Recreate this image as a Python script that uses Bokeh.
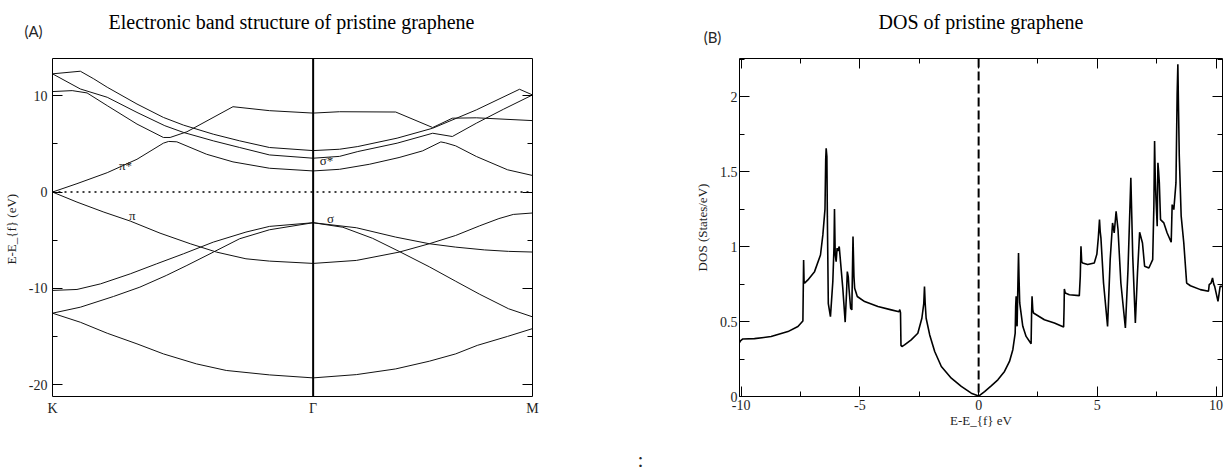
from bokeh.plotting import figure
from bokeh.layouts import row, column
from bokeh.models import Range1d, LinearAxis, FixedTicker, SingleIntervalTicker, Span, Label
from bokeh.core.properties import value
from bokeh.embed import file_html
from bokeh.resources import INLINE

SERIF = "Liberation Serif"
SANS = "Lato"

# ---------------- Panel A : band structure ----------------
K_POINT, GAMMA_POINT, M_POINT = 0.0, 0.543, 1.0
K_TICK_LABELS = {0: "K", 0.543: "Γ", 1: "M"}
ENERGY_RANGE = (-21.2, 13.85)
ENERGY_TICK_LABELS = {-20: "-20", -10: "-10", 0: "0", 10: "10"}

BAND1_K = [0, 0.058, 0.114, 0.176, 0.231, 0.3, 0.362, 0.452, 0.543, 0.633, 0.715, 0.785, 0.84, 0.885, 0.948, 1.0]
BAND1_E = [-12.56, -13.5, -14.64, -15.74, -16.78, -17.82, -18.5, -18.96, -19.27, -18.93, -18.34, -17.54, -16.78, -15.9, -14.97, -14.16]

BAND2_K = [0, 0.058, 0.127, 0.182, 0.237, 0.28, 0.335, 0.39, 0.452, 0.543, 0.605, 0.667, 0.722, 0.785, 0.84, 0.89, 0.95, 1.0]
BAND2_E = [-12.56, -11.94, -10.83, -9.86, -8.65, -7.61, -6.23, -4.84, -3.91, -3.18, -3.65, -4.8, -6.15, -7.75, -9.25, -10.6, -12.1, -12.94]

BAND3_K = [0, 0.051, 0.1, 0.162, 0.217, 0.273, 0.335, 0.403, 0.452, 0.543, 0.633, 0.715, 0.785, 0.84, 0.9, 0.95, 1.0]
BAND3_E = [-10.2, -10.1, -9.52, -8.48, -7.44, -6.4, -5.19, -4.15, -3.56, -3.18, -3.7, -4.67, -5.36, -5.71, -6.0, -6.15, -6.22]

PI_K = [0, 0.051, 0.107, 0.162, 0.224, 0.287, 0.342, 0.403, 0.452, 0.543, 0.633, 0.722, 0.785, 0.84, 0.89, 0.93, 0.96, 1.0]
PI_E = [0, -1.04, -2.08, -3.01, -4.26, -5.36, -6.23, -6.92, -7.16, -7.4, -7.09, -6.23, -5.36, -4.5, -3.5, -2.75, -2.32, -2.17]

BAND5_K = [0, 0.051, 0.114, 0.176, 0.231, 0.242, 0.259, 0.321, 0.376, 0.452, 0.543, 0.598, 0.66, 0.722, 0.771, 0.809, 0.819, 0.84, 0.883, 0.948, 1.0]
BAND5_E = [0, 0.87, 2.01, 3.4, 5.07, 5.25, 5.21, 3.92, 3.13, 2.47, 2.19, 2.36, 2.88, 3.58, 4.27, 5.2, 5.1, 4.79, 3.69, 2.31, 1.72]

BAND6_K = [0, 0.058, 0.114, 0.176, 0.234, 0.273, 0.335, 0.39, 0.452, 0.543, 0.598, 0.636, 0.718, 0.792, 0.833, 0.883, 0.94, 1.0]
BAND6_E = [12.26, 10.69, 9.83, 8.26, 6.88, 6.18, 5.31, 4.62, 3.85, 3.51, 3.7, 4.2, 5.07, 6.1, 5.76, 7.14, 8.6, 10.07]

BAND7_K = [0, 0.058, 0.086, 0.114, 0.176, 0.231, 0.273, 0.335, 0.39, 0.452, 0.543, 0.598, 0.636, 0.718, 0.792, 0.883, 0.973, 1.0]
BAND7_E = [12.26, 12.53, 11.74, 10.87, 9.13, 7.74, 6.94, 6.0, 5.31, 4.62, 4.3, 4.44, 4.72, 5.59, 6.62, 8.52, 10.66, 10.07]

BAND8_K = [0, 0.041, 0.072, 0.114, 0.176, 0.231, 0.245, 0.28, 0.376, 0.452, 0.543, 0.598, 0.715, 0.792, 0.833, 0.883, 1.0]
BAND8_E = [10.42, 10.52, 10.28, 8.96, 7.05, 5.66, 5.66, 6.25, 8.85, 8.44, 8.19, 8.33, 8.3, 6.69, 7.66, 7.7, 7.41]

SYMBOL_TEXT = ["π*", "π", "σ*", "σ"]
SYMBOL_K = [0.152, 0.166, 0.571, 0.579]
SYMBOL_E = [2.71, -2.42, 3.23, -2.77]

# ---------------- Panel B : DOS ----------------
DOS_X_RANGE = (-10.07, 10.27)
DOS_Y_RANGE = (0, 2.255)
DOS_Y_TICK_LABELS = {0: "0", 0.5: "0.5", 1: "1", 1.5: "1.5", 2: "2"}
DOS_X_TICK_LABELS = {-10: "-10", -5: "-5", 0: "0", 5: "5", 10: "10"}

DOS_E = [-10.07, -10.03, -9.93, -9.44, -8.74, -8.03, -7.61, -7.42, -7.40, -7.37, -7.35, -7.33, -7.19, -6.91,
         -6.66, -6.56, -6.47, -6.44, -6.42, -6.39, -6.37, -6.33, -6.24, -6.14, -6.09, -6.07, -6.04, -6.0,
         -5.96, -5.93, -5.87, -5.72, -5.62, -5.56, -5.53, -5.49, -5.46, -5.39, -5.34, -5.29, -5.25, -5.22,
         -5.11, -4.8, -4.24, -3.68, -3.35, -3.32, -3.29, -3.27, -3.23, -3.12, -2.84, -2.56, -2.39, -2.31,
         -2.28, -2.25, -2.21, -2.06, -1.85, -1.57, -1.15, -0.73, -0.31, 0.0,
         0.25, 0.53, 0.81, 1.09, 1.30, 1.44, 1.54, 1.56, 1.58, 1.60, 1.62, 1.66, 1.68, 1.70, 1.73, 1.86,
         2.00, 2.21, 2.23, 2.25, 2.28, 2.31, 2.77, 3.19, 3.58, 3.60, 3.61, 3.65, 3.82, 4.24, 4.28, 4.31,
         4.34, 4.38, 4.59, 4.87, 4.98, 5.04, 5.09, 5.12, 5.15, 5.26, 5.43, 5.54, 5.64, 5.71, 5.79, 5.87,
         5.99, 6.18, 6.29, 6.36, 6.41, 6.45, 6.49, 6.6, 6.69, 6.78, 6.9, 6.99, 7.17, 7.33, 7.38, 7.41,
         7.44, 7.47, 7.52, 7.55, 7.58, 7.61, 7.66, 7.8, 7.94, 8.11, 8.15, 8.22, 8.31, 8.36, 8.39, 8.42,
         8.45, 8.53, 8.64, 8.76, 8.92, 9.34, 9.68, 9.71, 9.79, 9.85, 9.9, 9.94, 10.08, 10.17, 10.27]
DOS_V = [0.36, 0.371, 0.384, 0.386, 0.40, 0.433, 0.467, 0.50, 0.505, 0.91, 0.76, 0.756, 0.778, 0.833,
         0.944, 1.078, 1.25, 1.58, 1.656, 1.60, 1.2, 0.62, 0.533, 0.767, 1.0, 1.251, 0.95, 0.90,
         0.99, 0.97, 1.0, 0.722, 0.496, 0.70, 0.833, 0.80, 0.722, 0.589, 0.578, 1.067, 0.80, 0.722,
         0.667, 0.633, 0.60, 0.578, 0.565, 0.58, 0.56, 0.34, 0.333, 0.344, 0.378, 0.422, 0.522, 0.62,
         0.733, 0.62, 0.522, 0.411, 0.30, 0.20, 0.122, 0.067, 0.022, 0.003,
         0.033, 0.071, 0.111, 0.167, 0.234, 0.312, 0.423, 0.60, 0.668, 0.50, 0.468, 0.80, 0.958, 0.80, 0.624, 0.468,
         0.401, 0.352, 0.55, 0.668, 0.58, 0.557, 0.512, 0.49, 0.463, 0.60, 0.717, 0.69, 0.679, 0.673, 0.80, 1.002,
         0.90, 0.891, 0.88, 0.891, 0.95, 1.058, 1.18, 1.10, 1.058, 0.757, 0.468, 0.913, 1.158, 1.091, 1.236, 1.114,
         0.757, 0.457, 0.846, 1.2, 1.459, 1.2, 0.935, 0.49, 0.824, 1.096, 1.024, 0.869, 0.857, 0.913, 1.27, 1.704,
         1.45, 1.314, 1.136, 1.559, 1.50, 1.425, 1.18, 1.158, 1.091, 1.029, 1.28, 1.247, 1.425, 2.016, 2.216, 1.9,
         1.604, 1.203, 1.024, 0.757, 0.739, 0.713, 0.702, 0.746, 0.757, 0.791, 0.75, 0.735, 0.635, 0.735, 0.735]

TITLE_A = "Electronic band structure of pristine graphene"
TITLE_B = "DOS of pristine graphene"

LEFT_W, RIGHT_W = 640, 591
HEAD_H, BODY_H, FOOT_H = 58, 382, 30


def style_axis(ax):
    ax.axis_line_color = None
    ax.major_label_text_font = SERIF
    ax.major_label_text_font_size = "14px"
    ax.major_label_text_color = "#1e1e1e"
    ax.axis_label_text_font = SERIF
    ax.axis_label_text_font_size = "13px"
    ax.axis_label_text_font_style = "normal"
    ax.axis_label_text_color = "#1e1e1e"
    ax.major_tick_line_color = "black"
    ax.minor_tick_line_color = "black"
    ax.major_tick_out = 0
    ax.minor_tick_out = 0


def mirror_axis(ticker, major_in, minor_in):
    ax = LinearAxis(ticker=ticker)
    ax.axis_line_color = None
    ax.major_label_text_font_size = "0px"
    ax.major_label_text_color = None
    ax.major_label_standoff = 0
    ax.major_tick_in = major_in
    ax.major_tick_out = 0
    ax.minor_tick_in = minor_in
    ax.minor_tick_out = 0
    return ax


def text_strip(width, height, x0):
    # a plain strip (no axes) whose data units are page pixels, used for headings
    s = figure(width=width, height=height, x_range=Range1d(x0, x0 + width), y_range=Range1d(height, 0),
               x_axis_type=None, y_axis_type=None, output_backend="svg", toolbar_location=None,
               min_border=0)
    s.outline_line_color = None
    s.background_fill_color = "white"
    s.border_fill_color = "white"
    return s


def plot_figure(width, border_left, border_right, x_range, y_range):
    p = figure(width=width, height=BODY_H, x_range=Range1d(*x_range), y_range=Range1d(*y_range),
               output_backend="svg", toolbar_location=None,
               min_border_left=border_left, min_border_right=border_right,
               min_border_top=0, min_border_bottom=44)
    p.grid.visible = False
    p.outline_line_color = "black"
    p.outline_line_width = 1
    p.background_fill_color = "white"
    p.border_fill_color = "white"
    return p


# ---------- headings ----------
h1 = text_strip(LEFT_W, HEAD_H, 0)
h1.add_layout(Label(x=291, y=21, text=TITLE_A, text_font=SERIF, text_font_size="20px",
                    text_color="black", text_align="center", text_baseline="middle"))
h1.add_layout(Label(x=33, y=30, text="(A)", text_font=SANS, text_font_size="15px",
                    text_color="#262626", text_align="center", text_baseline="middle"))

h2 = text_strip(RIGHT_W, HEAD_H, LEFT_W)
h2.add_layout(Label(x=980.5, y=21, text=TITLE_B, text_font=SERIF, text_font_size="20px",
                    text_color="black", text_align="center", text_baseline="middle"))
h2.add_layout(Label(x=712, y=36, text="(B)", text_font=SANS, text_font_size="15px",
                    text_color="#262626", text_align="center", text_baseline="middle"))

# ---------- Figure A ----------
p1 = plot_figure(LEFT_W, 50, 108, (0, 1), ENERGY_RANGE)

xa = p1.xaxis[0]
style_axis(xa)
xa.ticker = FixedTicker(ticks=[K_POINT, GAMMA_POINT, M_POINT])
xa.major_label_overrides = K_TICK_LABELS
xa.major_tick_in = 0
xa.minor_tick_in = 0
xa.major_label_standoff = 4

ya = p1.yaxis[0]
style_axis(ya)
ya.ticker = SingleIntervalTicker(interval=10, num_minor_ticks=2)
ya.major_label_overrides = ENERGY_TICK_LABELS
ya.major_tick_in = 10
ya.minor_tick_in = 5
ya.major_label_standoff = 5
ya.axis_label = "E-E_{f}  (eV)"
ya.axis_label_standoff = 7

p1.add_layout(mirror_axis(SingleIntervalTicker(interval=10, num_minor_ticks=2), 10, 5), "right")

p1.add_layout(Span(location=0, dimension="width", line_color="black", line_width=1.5, line_dash="2 4"))
p1.add_layout(Span(location=GAMMA_POINT, dimension="height", line_color="black", line_width=2))

for bk, be in [(BAND1_K, BAND1_E), (BAND2_K, BAND2_E), (BAND3_K, BAND3_E), (PI_K, PI_E),
               (BAND5_K, BAND5_E), (BAND6_K, BAND6_E), (BAND7_K, BAND7_E), (BAND8_K, BAND8_E)]:
    p1.line(bk, be, line_color="#111111", line_width=1)

p1.text(x=SYMBOL_K, y=SYMBOL_E, text=SYMBOL_TEXT, text_font=value(SERIF), text_font_size="13px",
        text_align="center", text_baseline="middle", text_color="#222222")

# ---------- Figure B ----------
p2 = plot_figure(RIGHT_W, 99, 9, DOS_X_RANGE, DOS_Y_RANGE)

xb = p2.xaxis[0]
style_axis(xb)
xb.ticker = SingleIntervalTicker(interval=5, num_minor_ticks=2)
xb.major_label_overrides = DOS_X_TICK_LABELS
xb.major_tick_in = 10
xb.minor_tick_in = 5
xb.major_label_standoff = 3
xb.axis_label = "E-E_{f} eV"
xb.axis_label_standoff = 0

yb = p2.yaxis[0]
style_axis(yb)
yb.ticker = SingleIntervalTicker(interval=0.5, num_minor_ticks=2)
yb.major_label_overrides = DOS_Y_TICK_LABELS
yb.major_tick_in = 10
yb.minor_tick_in = 5
yb.major_label_standoff = 2
yb.axis_label = "DOS (States/eV)"
yb.axis_label_standoff = 7

p2.add_layout(mirror_axis(SingleIntervalTicker(interval=0.5, num_minor_ticks=2), 10, 5), "right")
p2.add_layout(mirror_axis(SingleIntervalTicker(interval=5, num_minor_ticks=2), 10, 5), "above")

p2.add_layout(Span(location=0, dimension="height", line_color="black", line_width=2, line_dash="9 4"))
p2.line(DOS_E, DOS_V, line_color="black", line_width=1.6)

# ---------- footer ----------
foot = text_strip(LEFT_W + RIGHT_W, FOOT_H, 0)
foot.add_layout(Label(x=640, y=18, text=":", text_font=SANS, text_font_size="20px",
                      text_color="#262626", text_align="center", text_baseline="middle"))

layout = column(row(h1, h2), row(p1, p2), foot)
open("out.html", "w").write(file_html(layout, INLINE))
